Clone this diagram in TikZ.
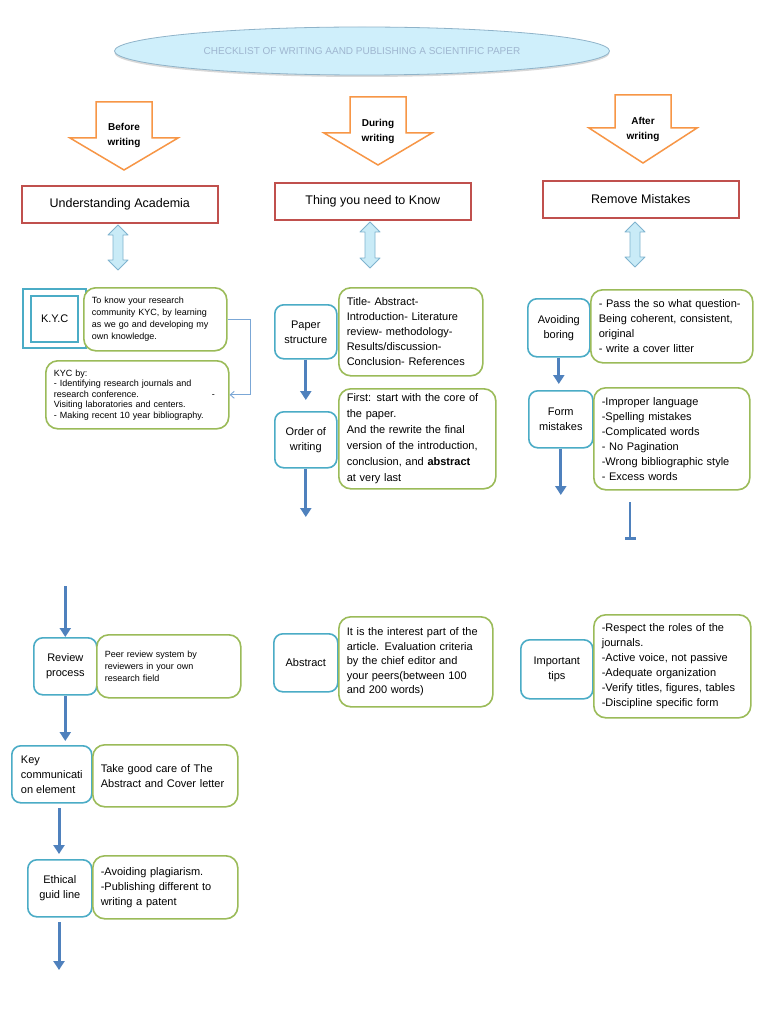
\documentclass[tikz,border=0pt]{standalone}
\usepackage{fontspec}
\setmainfont{Liberation Sans}
\usetikzlibrary{arrows.meta,shadows,shapes.geometric}
\definecolor{teal1}{HTML}{4BACC6}
\definecolor{green1}{HTML}{9BBB59}
\definecolor{red1}{HTML}{C0504D}
\definecolor{orange1}{HTML}{F79646}
\definecolor{blue1}{HTML}{4F81BD}
\definecolor{dblfill}{HTML}{C9EBF7}
\definecolor{dbldraw}{HTML}{7FB3CF}
\definecolor{titlefill}{HTML}{CFEFFB}
\definecolor{titledraw}{HTML}{8FB3C9}
\definecolor{titletext}{HTML}{9FB6D0}
\definecolor{linkblue}{HTML}{7BA7D6}
\newcommand\dblarr[3]{%
  \draw[dblarrow] (#1,#2) -- (#1+10,#2+10) -- (#1+5,#2+10) -- (#1+5,#3-10) -- (#1+10,#3-10) -- (#1,#3)
   -- (#1-10,#3-10) -- (#1-5,#3-10) -- (#1-5,#2+10) -- (#1-10,#2+10) -- cycle;}
\newcommand\blockarr[4]{% center, top, wing y, tip y
  \draw[blockarrow] (#1-28,#2) -- (#1+28,#2) -- (#1+28,#3) -- (#1+54,#3) -- (#1,#4) -- (#1-54,#3) -- (#1-28,#3) -- cycle;}
\begin{document}
\begin{tikzpicture}[x=1pt,y=-1pt,
 redbox/.style={draw=red1, line width=1.6pt, fill=white, minimum width=196pt, minimum height=37pt, anchor=north west, font=\fontsize{12.5}{15}\selectfont, inner sep=0pt, drop shadow={opacity=0.25, shadow xshift=1.5pt, shadow yshift=-1.5pt}},
 tbox/.style={draw=teal1, line width=1.6pt, rounded corners=9pt, fill=white, align=center, font=\fontsize{11}{15}\selectfont, inner sep=0pt, anchor=north west},
 gbox/.style={draw=green1, line width=1.6pt, rounded corners=12pt, fill=white, align=left, font=\fontsize{11}{15}\selectfont, inner xsep=8pt, inner ysep=0pt, anchor=north west},
 sbox/.style={gbox, font=\fontsize{9}{12}\selectfont},
 flow/.style={draw=blue1, line width=3pt, -{Triangle[width=11pt,length=9pt]}},
 arrtext/.style={font=\bfseries\fontsize{10}{15}\selectfont, align=center, inner sep=0pt},
 blockarrow/.style={draw=orange1, line width=1.5pt, fill=white, line join=miter},
 dblarrow/.style={draw=dbldraw, line width=0.9pt, fill=dblfill, line join=round}
]
\useasboundingbox (0,0) rectangle (768,1024);
\fill[white] (0,0) rectangle (768,1024);

% title
\node[ellipse, draw=titledraw, line width=0.8pt, fill=titlefill, minimum width=495pt, minimum height=48pt,
  drop shadow={opacity=0.3, shadow xshift=0pt, shadow yshift=-2pt},
  text=titletext, font=\fontsize{10}{12}\selectfont] (title) at (362,51)
  {CHECKLIST OF WRITING AAND PUBLISHING A SCIENTIFIC PAPER};

% block arrows
\blockarr{124}{102}{138}{170}
\blockarr{378}{97}{133}{165}
\blockarr{643}{95}{128}{163}
\node[arrtext] (before) at (124,135) {Before\\writing};
\node[arrtext] (during) at (378,131) {During\\writing};
\node[arrtext] (after) at (643,129) {After\\writing};

% red boxes
\node[redbox] (ua) at (21,185) {Understanding Academia};
\node[redbox] (tk) at (274,182) {Thing you need to Know};
\node[redbox] (rm) at (542,180) {Remove Mistakes};

% double arrows
\dblarr{118}{225}{270}
\dblarr{370}{222}{268}
\dblarr{635}{222}{267}

% left column top
\node[draw=teal1, line width=2.4pt, minimum width=63pt, minimum height=59pt, anchor=north west, inner sep=0pt] (kycouter) at (22,288) {};
\node[draw=teal1, line width=1.6pt, minimum width=47pt, minimum height=46pt, font=\fontsize{11}{13}\selectfont, inner sep=0pt] (kyc) at (kycouter.center) {K.Y.C};
\node[sbox, text width=127pt, minimum height=63pt] (kyc1) at (83,287)
 {To know your research\\community KYC, by learning\\as we go and developing my\\own knowledge.};
\node[sbox, font=\fontsize{9}{10.5}\selectfont, text width=167pt, minimum height=68pt] (kyc2) at (45,360)
 {KYC by:\\- Identifying research journals and\\\makebox[158pt][l]{research conference.}-\\Visiting laboratories and centers.\\- Making recent 10 year bibliography.};
\coordinate (kycx) at (250,0);
\draw[linkblue, line width=0.9pt, -{Straight Barb[length=4pt,width=7pt]}] (kyc1.east) -- (kyc1.east -| kycx) |- (kyc2.east);

% middle column top
\node[tbox, minimum width=62pt, minimum height=54pt] (ps) at (274,304) {Paper\\structure};
\node[gbox, text width=128pt, minimum height=88pt] (psg) at (338,287)
 {Title- Abstract-\\Introduction- Literature\\review- methodology-\\Results/discussion-\\Conclusion- References};
\coordinate (ps1) at (0,400);
\draw[flow] (ps.south) -- (ps.south |- ps1);
\node[tbox, minimum width=62pt, minimum height=56pt] (ow) at (274,411) {Order of\\writing};
\node[gbox, text width=141pt, minimum height=100pt, font=\fontsize{11}{16}\selectfont] (owg) at (338,388)
 {First: start with the core of\\the paper.\\And the rewrite the final\\version of the introduction,\\conclusion, and \textbf{abstract}\\at very last};
\coordinate (ow1) at (0,517);
\draw[flow] (ow.south) -- (ow.south |- ow1);

% right column top
\node[tbox, minimum width=62pt, minimum height=58pt] (ab) at (527,298) {Avoiding\\boring};
\node[gbox, text width=146pt, minimum height=73pt] (abg) at (590,289)
 {- Pass the so what question-\\Being coherent, consistent,\\original\\- write a cover litter};
\coordinate (ab1) at (0,384);
\draw[flow] (ab.south) -- (ab.south |- ab1);
\node[tbox, minimum width=64pt, minimum height=57pt] (fm) at (528,390) {Form\\mistakes};
\node[gbox, text width=140pt, minimum height=102pt] (fmg) at (593,387)
 {-Improper language\\-Spelling mistakes\\-Complicated words\\- No Pagination\\-Wrong bibliographic style\\- Excess words};
\coordinate (fm1) at (0,495);
\draw[flow] (fm.south) -- (fm.south |- fm1);
\coordinate (tb1) at (630,502);
\coordinate (tb2) at (630,540);
\draw[blue1, line width=2.8pt, -{Bar[width=11pt]}] (tb1) -- (tb2);

% left column bottom
\coordinate (rp0) at (0,586);
\node[tbox, minimum width=63pt, minimum height=57pt] (rp) at (33,637) {Review\\process};
\draw[flow] (rp.north |- rp0) -- (rp.north);
\node[sbox, text width=128pt, minimum height=63pt] (rpg) at (96,634)
 {Peer review system by\\reviewers in your own\\research field};
\coordinate (rp1) at (0,741);
\draw[flow] (rp.south) -- (rp.south |- rp1);
\node[tbox, minimum width=80pt, minimum height=57pt, align=left, inner xsep=6pt] (kc) at (11,745) {Key\\communicati\\on element};
\node[gbox, text width=129pt, minimum height=62pt] (kcg) at (92,744)
 {Take good care of The\\Abstract and Cover letter};
\coordinate (kc0) at (59,808);
\coordinate (kc1) at (59,854);
\draw[flow] (kc0) -- (kc1);
\node[tbox, minimum width=64pt, minimum height=57pt] (eg) at (27,859) {Ethical\\guid line};
\node[gbox, text width=129pt, minimum height=63pt] (egg) at (92,855)
 {-Avoiding plagiarism.\\-Publishing different to\\writing a patent};
\coordinate (eg0) at (59,922);
\coordinate (eg1) at (59,970);
\draw[flow] (eg0) -- (eg1);

% middle bottom
\node[tbox, minimum width=64pt, minimum height=58pt] (abs) at (273,633) {Abstract};
\node[gbox, text width=138pt, minimum height=90pt, font=\fontsize{11}{14.5}\selectfont] (absg) at (338,616)
 {It is the interest part of the\\article. Evaluation criteria\\by the chief editor and\\your peers(between 100\\and 200 words)};

% right bottom
\node[tbox, minimum width=72pt, minimum height=59pt] (it) at (520,639) {Important\\tips};
\node[gbox, text width=141pt, minimum height=103pt] (itg) at (593,614)
 {-Respect the roles of the\\journals.\\-Active voice, not passive\\-Adequate organization\\-Verify titles, figures, tables\\-Discipline specific form};
\end{tikzpicture}
\end{document}
